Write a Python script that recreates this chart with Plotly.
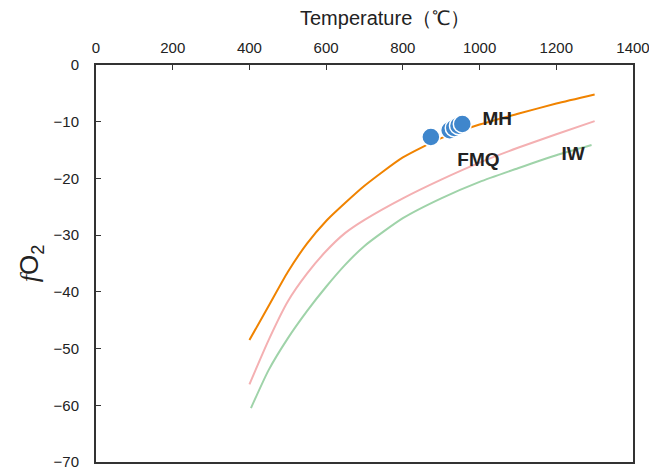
import plotly.graph_objects as go

# Buffer curves (temperature °C, log fO2)
mh_t = [400, 450, 500, 550, 600, 650, 700, 800, 900, 1000, 1100, 1200, 1300]
mh_v = [-48.5, -42.5, -36.5, -31.5, -27.5, -24.3, -21.3, -16.3, -12.9, -10.5, -8.6, -6.8, -5.2]

fmq_t = [400, 450, 500, 550, 600, 650, 700, 800, 900, 1000, 1100, 1200, 1300]
fmq_v = [-56.3, -48.5, -41.7, -36.8, -32.8, -29.6, -27.3, -23.5, -20.2, -17.2, -14.6, -12.2, -9.9]

iw_t = [404, 450, 500, 550, 600, 650, 700, 800, 900, 1000, 1100, 1200, 1292]
iw_v = [-60.5, -53.8, -48.2, -43.4, -39.1, -35.2, -31.9, -27.0, -23.5, -20.6, -18.2, -15.9, -14.1]

# Samples
sample_t = [873, 922, 934, 945, 955]
sample_v = [-12.7, -11.5, -11.1, -10.7, -10.4]

labels = ["MH", "FMQ", "IW"]
label_t = [1046, 997, 1244]
label_v = [-9.7, -16.9, -15.9]

x_title = "Temperature（℃）"
y_title = "<span style='font-family:Liberation Serif'><i>f</i></span>O<sub>2</sub>"

fig = go.Figure()
fig.add_trace(go.Scatter(x=iw_t, y=iw_v, mode="lines", line=dict(color="#9fd3a9", width=2, shape="spline", smoothing=0.6), showlegend=False))
fig.add_trace(go.Scatter(x=fmq_t, y=fmq_v, mode="lines", line=dict(color="#f4b0b2", width=2, shape="spline", smoothing=0.6), showlegend=False))
fig.add_trace(go.Scatter(x=mh_t, y=mh_v, mode="lines", line=dict(color="#f08300", width=2, shape="spline", smoothing=0.6), showlegend=False))
fig.add_trace(go.Scatter(x=sample_t, y=sample_v, mode="markers",
                         marker=dict(color="#3f86cc", size=18, line=dict(color="white", width=1.5)),
                         showlegend=False))
fig.add_trace(go.Scatter(x=label_t, y=label_v, mode="text", text=labels,
                         texttemplate="<b>%{text}</b>",
                         textfont=dict(family="Liberation Sans, Arial", size=19, color="#222222"),
                         showlegend=False))

fig.add_annotation(text=x_title, xref="paper", yref="paper", x=0.538, y=1.118,
                   xanchor="center", yanchor="middle", showarrow=False,
                   font=dict(family="Liberation Sans, Arial", size=20, color="#222222"))

axis_font = dict(family="Liberation Sans, Arial", size=15, color="#222222")
fig.update_layout(
    width=649, height=464,
    margin=dict(l=88, r=24, t=57, b=10),
    paper_bgcolor="white", plot_bgcolor="white",
    xaxis=dict(side="top", range=[0, 1400], tickmode="linear", tick0=0, dtick=200,
               ticks="inside", ticklen=5, tickwidth=1, tickcolor="#333333",
               showline=True, linecolor="#333333", linewidth=2, mirror=True,
               showgrid=False, zeroline=False, tickfont=axis_font, automargin=False,
               ticklabelstandoff=4),
    yaxis=dict(range=[-70, 0], tickmode="linear", tick0=-70, dtick=10,
               ticks="inside", ticklen=5, tickwidth=1, tickcolor="#333333",
               showline=True, linecolor="#333333", linewidth=2, mirror=True,
               showgrid=False, zeroline=False, tickfont=axis_font, automargin=False,
               ticklabelstandoff=12,
               title=dict(text=y_title,
                          font=dict(family="Liberation Sans, Arial", size=26, color="#222222"),
                          standoff=7)),
)

fig.write_html("out.html")
